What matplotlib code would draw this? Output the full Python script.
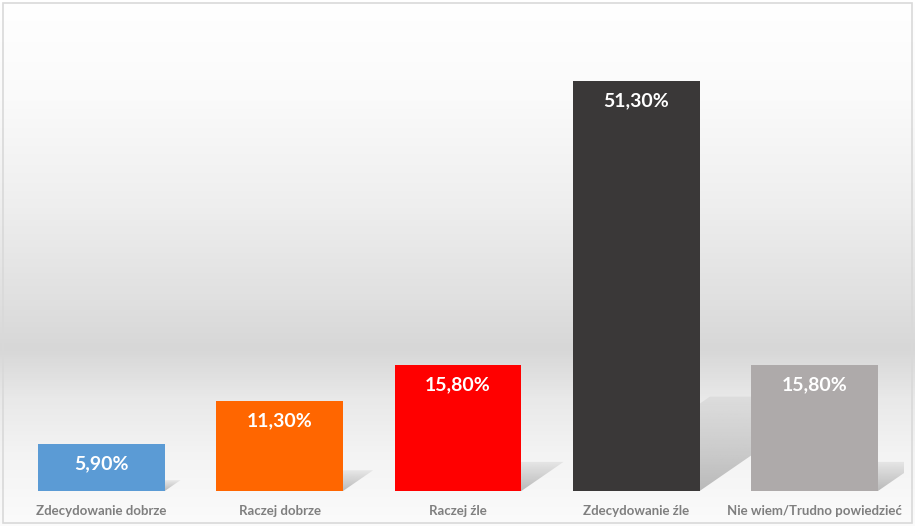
import numpy as np
import matplotlib.pyplot as plt
from matplotlib.patches import Polygon, Rectangle
from matplotlib.colors import LinearSegmentedColormap

categories = ['Zdecydowanie dobrze', 'Raczej dobrze', 'Raczej źle',
              'Zdecydowanie źle', 'Nie wiem/Trudno powiedzieć']
values = [5.9, 11.3, 15.8, 51.3, 15.8]
labels = ['5,90%', '11,30%', '15,80%', '51,30%', '15,80%']
colors = ['#5b9bd5', '#ff6600', '#ff0000', '#3a3838', '#aeaaaa']

plt.rcParams['font.family'] = ['Lato', 'DejaVu Sans']

fig = plt.figure(figsize=(9.15, 5.26), dpi=100)

# background gradient (whole figure)
bg = fig.add_axes([0, 0, 1, 1], zorder=0)
bg_stops = [(0.0, '#ffffff'), (0.19, '#fafafa'), (0.38, '#efefef'),
            (0.57, '#e0e0e0'), (0.665, '#d7d7d7'), (0.76, '#e9e9e9'),
            (0.86, '#f3f3f3'), (1.0, '#fbfbfb')]
bg_cmap = LinearSegmentedColormap.from_list('bg', bg_stops)
bg.imshow(np.linspace(0, 1, 526).reshape(-1, 1), aspect='auto', cmap=bg_cmap,
          extent=[0, 1, 0, 1], origin='upper')
bg.add_patch(Rectangle((0.003, 0.006), 0.994, 0.988, fill=False,
                       edgecolor='#d9d9d9', linewidth=1.2))
bg.set_xlim(0, 1)
bg.set_ylim(0, 1)
bg.axis('off')

ax = fig.add_axes([12.3 / 915, 35 / 526, 891.5 / 915, 480 / 526], zorder=1)
ax.patch.set_alpha(0)
x = np.arange(len(values))
width = 0.71

# shadows behind bars
shadow_cmap = LinearSegmentedColormap.from_list(
    'sh', [(0, (0.6, 0.6, 0.6, 0.15)), (1, (0.6, 0.6, 0.6, 0.65))])
for xi, v in zip(x, values):
    sh = 0.23 * v
    dx = sh * 8 * 1.45 / 178.3
    xl, xr = xi - width / 2, xi + width / 2
    poly = Polygon([(xl, 0), (xr, 0), (xr + dx, sh), (xl + dx, sh)],
                   closed=True, facecolor='none', edgecolor='none')
    ax.add_patch(poly)
    grad = np.linspace(1, 0, 50).reshape(-1, 1)
    im = ax.imshow(grad, cmap=shadow_cmap, aspect='auto',
                   extent=[xl, xr + dx, 0, sh], origin='lower', zorder=1)
    im.set_clip_path(poly)

ax.bar(x, values, width=width, color=colors, zorder=2)

for xi, v, lab in zip(x, values, labels):
    ax.annotate(lab, (xi, v), xytext=(0, -14.5), textcoords='offset points',
                ha='center', va='center', color='white', fontsize=14,
                fontweight='bold', zorder=3)

ax.set_xlim(-0.5, len(values) - 0.5)
ax.set_ylim(0, 60)
ax.set_xticks(x)
ax.set_xticklabels(categories, fontsize=9.5, fontweight='bold', color='#7f7f7f')
ax.tick_params(axis='x', length=0, pad=10)
ax.set_yticks([])
for s in ax.spines.values():
    s.set_visible(False)

fig.savefig('out.png', dpi=100)
